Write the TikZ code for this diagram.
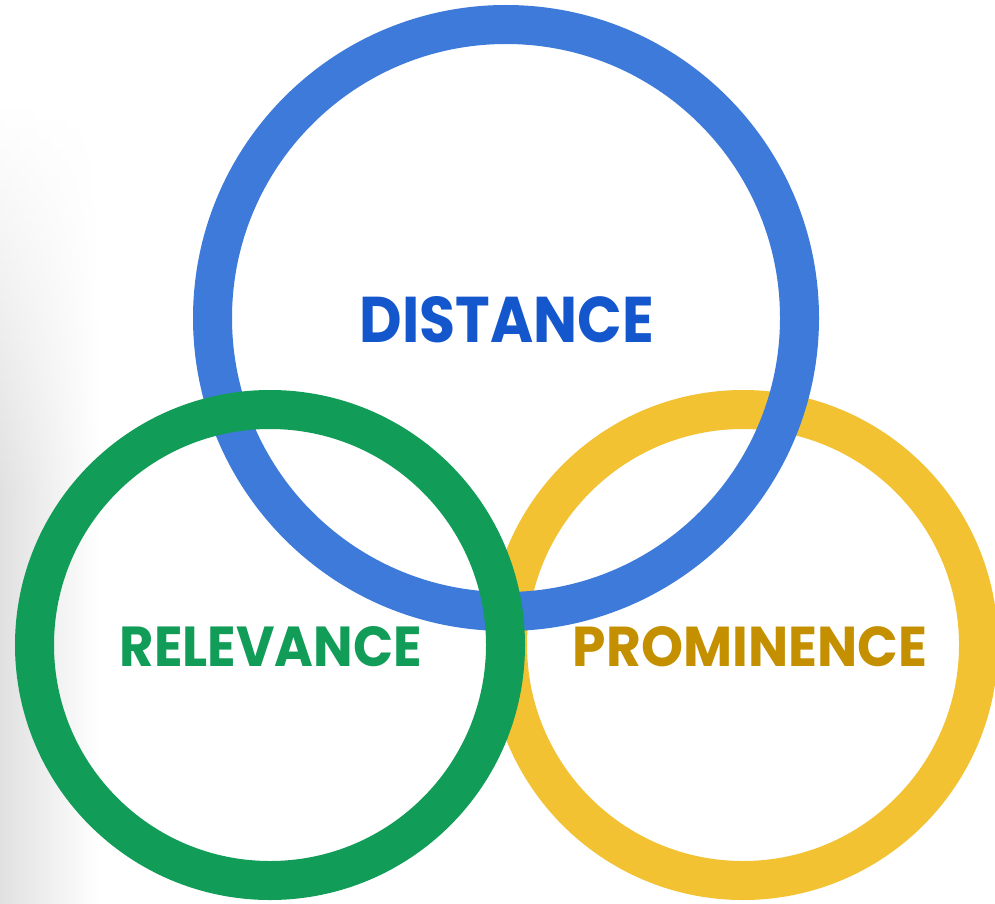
\documentclass[tikz,border=0pt]{standalone}
\usepackage{fontspec}
\setmainfont{Poppins}
\definecolor{ringblue}{HTML}{3D7AD9}
\definecolor{ringgreen}{HTML}{119C58}
\definecolor{ringyellow}{HTML}{F2C232}
\definecolor{txtblue}{HTML}{1457CC}
\definecolor{txtgreen}{HTML}{119C58}
\definecolor{txtyellow}{HTML}{C49000}
\tikzset{
  ring/.style={line width=39pt},
  label/.style={inner sep=0pt, anchor=center, font=\bfseries}
}
\begin{document}
\begin{tikzpicture}[x=1pt,y=-1pt]
\useasboundingbox (0,0) rectangle (995,904);
\fill[white] (0,0) rectangle (995,904);
% soft shadow at left edge
\foreach \i in {0,...,39}{
  \pgfmathsetmacro{\p}{12*\i/39}
  \pgfmathsetmacro{\q}{\p/3}
  \pgfmathsetmacro{\ya}{100+10*\i}
  \pgfmathsetmacro{\yb}{\ya+10.6}
  \shade[left color=black!\p, middle color=black!\q, right color=white, draw=none] (0,\ya) rectangle (100,\yb);
}
\shade[left color=black!12, middle color=black!4, right color=white, draw=none] (0,500) rectangle (100,904);
% rings
\draw[ring, ringyellow] (743,645) circle[radius=235.5];
\draw[ring, ringblue] (506,318) circle[radius=293.5];
\draw[ring, ringgreen] (270,645) circle[radius=235.5];
% labels
\node[label, text=txtblue] (dist) at (507,320) {\resizebox{294pt}{46pt}{DISTANCE}};
\node[label, text=txtgreen] (rel) at (271,647) {\resizebox{302pt}{40pt}{RELEVANCE}};
\node[label, text=txtyellow] (prom) at (750,647) {\resizebox{354pt}{40pt}{PROMINENCE}};
\end{tikzpicture}
\end{document}
